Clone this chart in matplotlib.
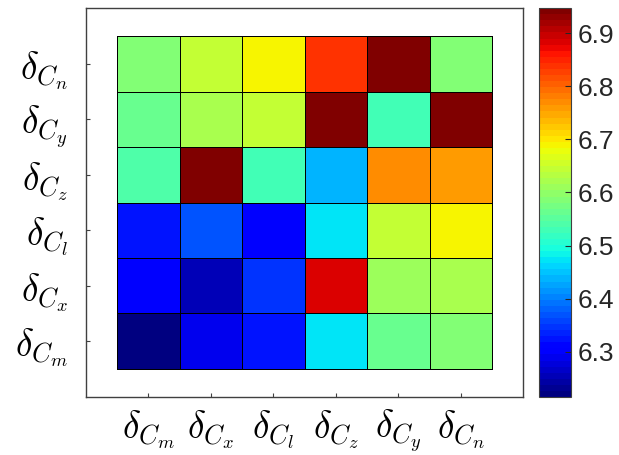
import matplotlib
matplotlib.use('Agg')
import matplotlib.pyplot as plt
import numpy as np

# row / column names (bottom to top, left to right)
names = ['m', 'x', 'l', 'z', 'y', 'n']
labels = [r'$\delta_{C_%s}$' % n for n in names]

# values, rows listed bottom (Cm) to top (Cn)
row_cm = [6.215, 6.284, 6.318, 6.468, 6.559, 6.590]
row_cx = [6.303, 6.255, 6.341, 6.879, 6.604, 6.616]
row_cl = [6.318, 6.364, 6.306, 6.468, 6.640, 6.685]
row_cz = [6.536, 6.947, 6.524, 6.433, 6.764, 6.753]
row_cy = [6.563, 6.616, 6.640, 6.938, 6.535, 6.938]
row_cn = [6.590, 6.640, 6.685, 6.834, 6.938, 6.581]

data = np.array([row_cm, row_cx, row_cl, row_cz, row_cy, row_cn])

plt.rcParams['mathtext.fontset'] = 'cm'
plt.rcParams['font.family'] = ['Liberation Sans', 'DejaVu Sans']

fig = plt.figure(figsize=(6.19, 4.55), dpi=100)
ax = fig.add_axes([0.1385, 0.1281, 0.707, 0.8536])
cax = fig.add_axes([0.870, 0.1275, 0.0517, 0.8545])

cmap = plt.get_cmap('jet', 64)
mesh = ax.pcolormesh(data, cmap=cmap, vmin=data.min(), vmax=data.max(),
                     edgecolors='k', linewidth=0.6)

ax.set_xlim(-0.5, 6.5)
ax.set_ylim(-0.5, 6.5)
ax.set_xticks(np.arange(6) + 0.5)
ax.set_yticks(np.arange(6) + 0.5)
ax.set_xticklabels(labels, fontsize=27)
ax.set_yticklabels(labels, fontsize=27)
ax.tick_params(direction='in', length=3, color='0.25')
ax.tick_params(axis='x', pad=8)
ax.tick_params(axis='y', pad=13)
for s in ax.spines.values():
    s.set_color('0.25')
    s.set_linewidth(1.0)

cb = fig.colorbar(mesh, cax=cax)
cb.set_ticks([6.3, 6.4, 6.5, 6.6, 6.7, 6.8, 6.9])
cb.ax.tick_params(direction='in', length=4, labelsize=19, colors='0.15', pad=5)
cb.outline.set_edgecolor('0.25')

fig.savefig('out.png', dpi=100)
